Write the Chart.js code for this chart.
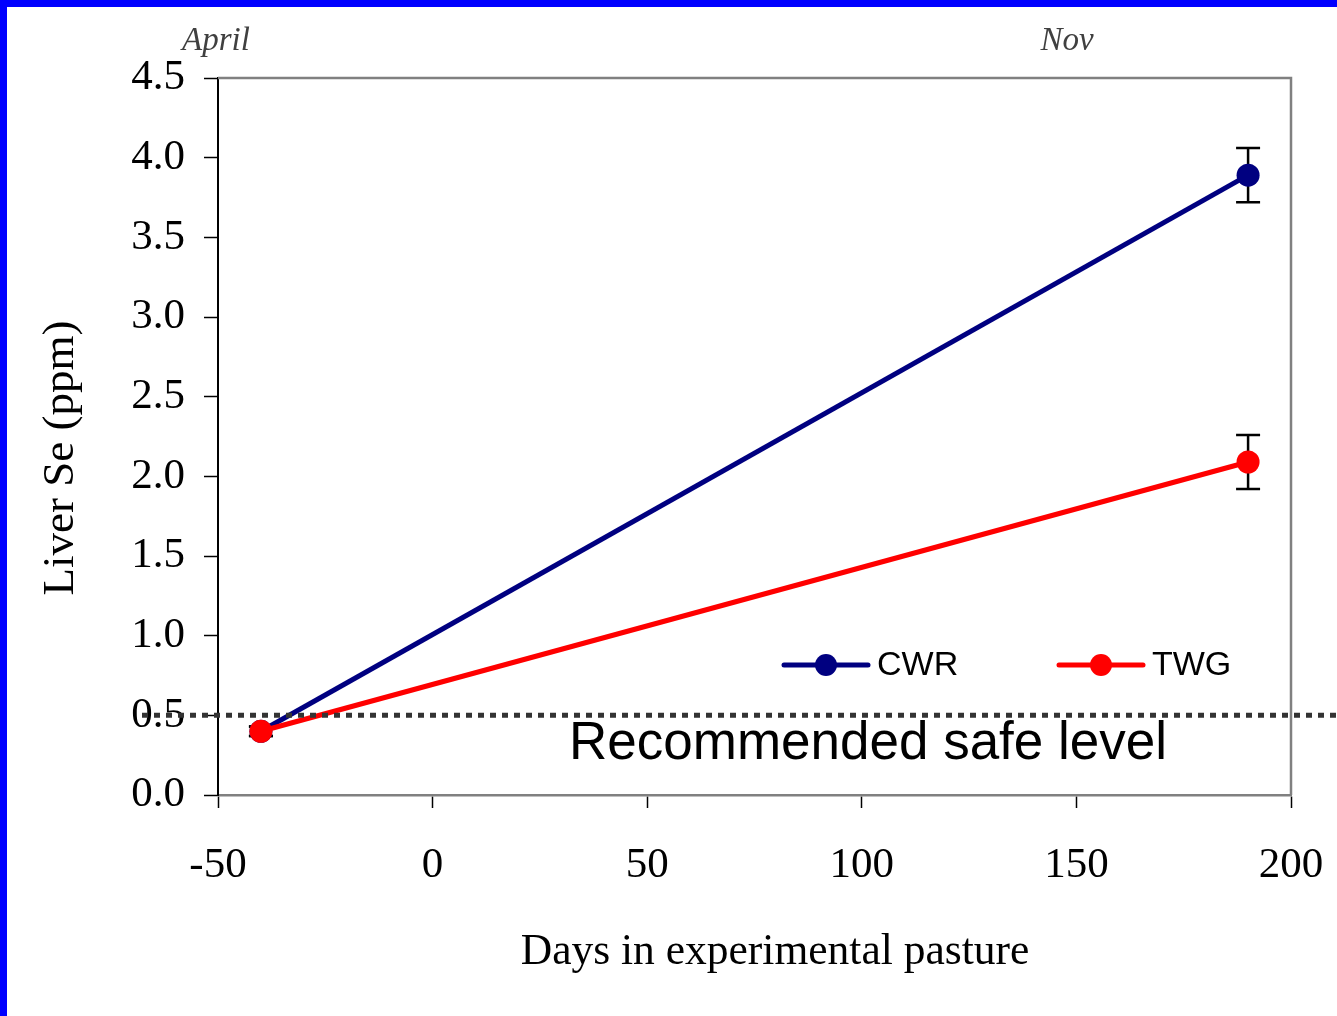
<!DOCTYPE html>
<html>
<head>
<meta charset="utf-8">
<script src="https://cdn.jsdelivr.net/npm/chart.js@4.4.1/dist/chart.umd.min.js"></script>
<style>
    html, body { margin: 0; padding: 0; background: #fff; }
    #wrap {
        position: absolute; left: 0; top: 0;
        width: 1330px; height: 1009px;
        border-left: 7px solid #0000ff;
        border-top: 7px solid #0000ff;
        background: #fff;
    }
    #chart { display: block; }
</style>
</head>
<body>
<div id="wrap"><canvas id="chart" width="1330" height="1009"></canvas></div>
<script>
// datos
const DIAS = [-40, 190];
const CWR = [0.40, 3.89];
const TWG = [0.40, 2.09];
const CWR_ERR = [0.03, 0.17];
const TWG_ERR = [0.03, 0.17];
const SAFE_LEVEL = 0.5;
const SAFE_LABEL = 'Recommended safe level';
const MONTH_LABELS = ['April', 'Nov'];
const X_TITLE = 'Days in experimental pasture';
const Y_TITLE = 'Liver Se (ppm)';

const SERIF = '"Liberation Serif", "Times New Roman", serif';
const SANS = '"Liberation Sans", Arial, sans-serif';
const NAVY = '#000080';
const RED = '#ff0000';

const toPoints = (ys) => DIAS.map((d, i) => ({ x: d, y: ys[i] }));

// barras de error, marco, linea punteada, leyenda, titulos
const extras = {
    id: 'extras',
    beforeDatasetsDraw(chart) {
        const { ctx, chartArea: a, scales: { x, y } } = chart;
        ctx.save();
        ctx.strokeStyle = '#808080';
        ctx.lineWidth = 2.5;
        ctx.beginPath();
        ctx.moveTo(a.left, a.top);
        ctx.lineTo(a.right, a.top);
        ctx.lineTo(a.right, a.bottom);
        ctx.stroke();

        ctx.strokeStyle = '#000';
        ctx.lineWidth = 2.5;
        [[CWR, CWR_ERR], [TWG, TWG_ERR]].forEach(([vals, errs]) => {
            vals.forEach((v, i) => {
                const px = x.getPixelForValue(DIAS[i]);
                const top = y.getPixelForValue(v + errs[i]);
                const bot = y.getPixelForValue(v - errs[i]);
                ctx.beginPath();
                ctx.moveTo(px, top); ctx.lineTo(px, bot);
                ctx.moveTo(px - 12, top); ctx.lineTo(px + 12, top);
                ctx.moveTo(px - 12, bot); ctx.lineTo(px + 12, bot);
                ctx.stroke();
            });
        });
        ctx.restore();
    },
    afterDatasetsDraw(chart) {
        const { ctx, scales: { y } } = chart;
        ctx.save();
        const py = y.getPixelForValue(SAFE_LEVEL);
        ctx.strokeStyle = '#333';
        ctx.lineWidth = 5;
        ctx.setLineDash([6, 6]);
        ctx.beginPath();
        ctx.moveTo(135, py);
        ctx.lineTo(chart.width, py);
        ctx.stroke();
        ctx.setLineDash([]);

        ctx.fillStyle = '#000';
        ctx.font = '53px ' + SANS;
        ctx.textAlign = 'left';
        ctx.textBaseline = 'middle';
        ctx.fillText(SAFE_LABEL, 562, py + 29);

        // meses
        ctx.fillStyle = '#404040';
        ctx.font = 'italic 33px ' + SERIF;
        ctx.textAlign = 'center';
        ctx.fillText(MONTH_LABELS[0], 209, 34);
        ctx.fillText(MONTH_LABELS[1], 1060, 34);

        // titulos de ejes
        ctx.fillStyle = '#000';
        ctx.font = '43.5px ' + SERIF;
        ctx.fillText(X_TITLE, 768, 946);
        ctx.save();
        ctx.translate(54, 451);
        ctx.rotate(-Math.PI / 2);
        ctx.font = '45px ' + SERIF;
        ctx.fillText(Y_TITLE, 0, 0);
        ctx.restore();

        // leyenda
        const items = [
            { label: 'CWR', color: NAVY, x0: 777 },
            { label: 'TWG', color: RED, x0: 1052 },
        ];
        const ly = 658;
        items.forEach(it => {
            ctx.strokeStyle = it.color;
            ctx.lineWidth = 5;
            ctx.lineCap = 'round';
            ctx.beginPath();
            ctx.moveTo(it.x0, ly);
            ctx.lineTo(it.x0 + 84, ly);
            ctx.stroke();
            ctx.fillStyle = it.color;
            ctx.beginPath();
            ctx.arc(it.x0 + 42, ly, 11, 0, Math.PI * 2);
            ctx.fill();
            ctx.fillStyle = '#000';
            ctx.font = '34px ' + SANS;
            ctx.textAlign = 'left';
            ctx.fillText(it.label, it.x0 + 93, ly + 1);
        });
        ctx.restore();
    }
};

const ctx = document.getElementById('chart').getContext('2d');
new Chart(ctx, {
    type: 'scatter',
    data: {
        datasets: [
            {
                label: 'TWG',
                data: toPoints(TWG),
                showLine: true,
                borderColor: RED,
                backgroundColor: RED,
                borderWidth: 5,
                pointRadius: 11.5,
                pointBorderWidth: 0,
                order: 0,
            },
            {
                label: 'CWR',
                data: toPoints(CWR),
                showLine: true,
                borderColor: NAVY,
                backgroundColor: NAVY,
                borderWidth: 5,
                pointRadius: 11.5,
                pointBorderWidth: 0,
                order: 1,
            }
        ]
    },
    options: {
        responsive: false,
        animation: false,
        layout: { padding: { top: 71, right: 46, left: 0, bottom: 0 } },
        plugins: {
            legend: { display: false },
            tooltip: { enabled: false }
        },
        scales: {
            x: {
                type: 'linear',
                min: -50,
                max: 200,
                ticks: {
                    stepSize: 50,
                    color: '#000',
                    padding: 32,
                    font: { family: SERIF, size: 43 },
                    maxRotation: 0,
                },
                grid: { drawOnChartArea: false, drawTicks: true, tickLength: 13, tickColor: '#000', tickWidth: 1.5 },
                border: { color: '#808080', width: 2.5 },
                afterFit: (s) => { s.height = 221; s.paddingLeft = 0; s.paddingRight = 0; }
            },
            y: {
                min: 0,
                max: 4.5,
                ticks: {
                    stepSize: 0.5,
                    color: '#000',
                    padding: 19,
                    font: { family: SERIF, size: 43 },
                    callback: (v) => v.toFixed(1)
                },
                grid: { drawOnChartArea: false, drawTicks: true, tickLength: 14, tickColor: '#000', tickWidth: 1.5 },
                border: { color: '#000', width: 2 },
                afterFit: (s) => { s.width = 211; s.paddingTop = 0; s.paddingBottom = 0; }
            }
        }
    },
    plugins: [extras]
});
</script>
</body>
</html>
